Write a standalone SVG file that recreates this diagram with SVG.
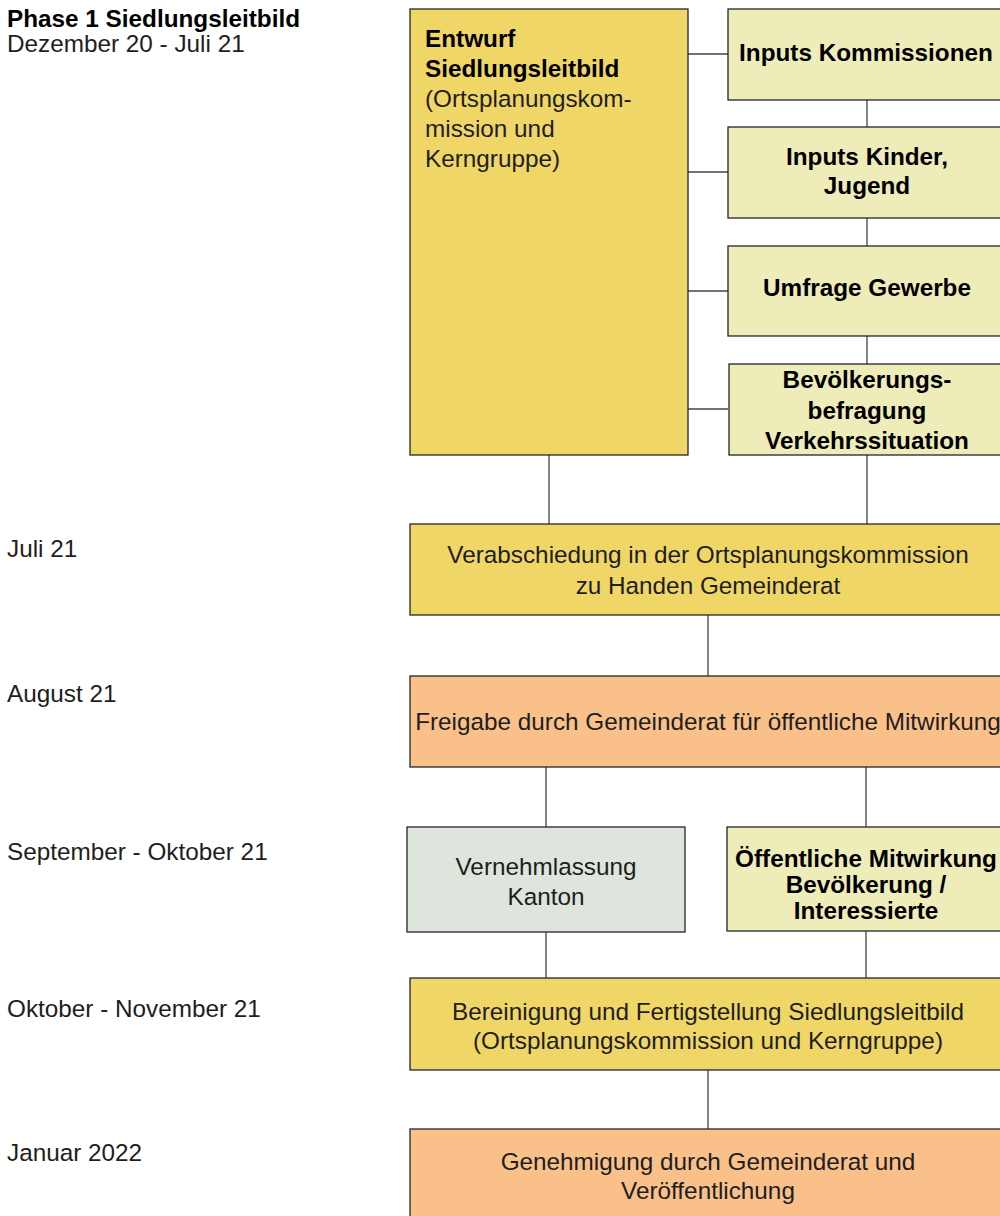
<svg xmlns="http://www.w3.org/2000/svg" width="1000" height="1216" viewBox="0 0 1000 1216">
<style>
text{font-family:"Liberation Sans",Arial,Helvetica,sans-serif;font-size:24.3px;fill:#1e1e1e}
.b{font-weight:bold;fill:#000}
.c{text-anchor:middle}
.box{stroke:#262626;stroke-width:1.3}
.y{fill:#F0D666}
.ly{fill:#EEECB8}
.o{fill:#F9C08A}
.g{fill:#DDE5DC}
.con line{stroke:#444;stroke-width:1.3}
</style>
<rect width="1000" height="1216" fill="#fff"/>
<g id="labels">
<text x="7" y="27" class="b">Phase 1 Siedlungsleitbild</text>
<text x="7" y="52">Dezember 20 - Juli 21</text>
<text x="7" y="557">Juli 21</text>
<text x="7" y="702">August 21</text>
<text x="7" y="860">September - Oktober 21</text>
<text x="7" y="1017">Oktober - November 21</text>
<text x="7" y="1161">Januar 2022</text>
</g>
<g class="con" id="connectors">
<line x1="688" y1="54" x2="728" y2="54"/>
<line x1="688" y1="172" x2="728" y2="172"/>
<line x1="688" y1="291" x2="728" y2="291"/>
<line x1="688" y1="409" x2="728" y2="409"/>
<line x1="867" y1="100" x2="867" y2="127"/>
<line x1="867" y1="218" x2="867" y2="246"/>
<line x1="867" y1="336" x2="867" y2="364"/>
<line x1="549" y1="455" x2="549" y2="524"/>
<line x1="867" y1="455" x2="867" y2="524"/>
<line x1="708" y1="615" x2="708" y2="676"/>
<line x1="546" y1="767" x2="546" y2="827"/>
<line x1="866" y1="767" x2="866" y2="827"/>
<line x1="546" y1="932" x2="546" y2="978"/>
<line x1="866" y1="931" x2="866" y2="978"/>
<line x1="708" y1="1070" x2="708" y2="1129"/>
</g>
<g id="entwurf">
<rect class="box y" x="410" y="9" width="278" height="446"/>
<text x="425" y="46.5" class="b">Entwurf</text>
<text x="425" y="76.5" class="b">Siedlungsleitbild</text>
<text x="425" y="107">(Ortsplanungskom-</text>
<text x="425" y="137">mission und</text>
<text x="425" y="167">Kerngruppe)</text>
</g>
<g id="inputs-kommissionen">
<rect class="box ly" x="728" y="9" width="280" height="91"/>
<text x="866" y="61" class="b c">Inputs Kommissionen</text>
</g>
<g id="inputs-kinder">
<rect class="box ly" x="728" y="127" width="280" height="91"/>
<text x="867" y="165" class="b c">Inputs Kinder,</text>
<text x="867" y="194" class="b c">Jugend</text>
</g>
<g id="umfrage">
<rect class="box ly" x="728" y="246" width="280" height="90"/>
<text x="867" y="296" class="b c">Umfrage Gewerbe</text>
</g>
<g id="befragung">
<rect class="box ly" x="729" y="364" width="280" height="91"/>
<text x="867" y="388" class="b c">Bevölkerungs-</text>
<text x="867" y="418.5" class="b c">befragung</text>
<text x="867" y="449" class="b c">Verkehrssituation</text>
</g>
<g id="verabschiedung">
<rect class="box y" x="410" y="524" width="598" height="91"/>
<text x="708" y="563" class="c">Verabschiedung in der Ortsplanungskommission</text>
<text x="708" y="594" class="c">zu Handen Gemeinderat</text>
</g>
<g id="freigabe">
<rect class="box o" x="410" y="676" width="598" height="91"/>
<text x="708" y="730" class="c">Freigabe durch Gemeinderat für öffentliche Mitwirkung</text>
</g>
<g id="vernehmlassung">
<rect class="box g" x="407" y="827" width="278" height="105"/>
<text x="546" y="875" class="c">Vernehmlassung</text>
<text x="546" y="905" class="c">Kanton</text>
</g>
<g id="mitwirkung">
<rect class="box ly" x="727" y="827" width="281" height="104"/>
<text x="866" y="866.5" class="b c">Öffentliche Mitwirkung</text>
<text x="866" y="892.5" class="b c">Bevölkerung /</text>
<text x="866" y="919" class="b c">Interessierte</text>
</g>
<g id="bereinigung">
<rect class="box y" x="410" y="978" width="598" height="92"/>
<text x="708" y="1020" class="c">Bereinigung und Fertigstellung Siedlungsleitbild</text>
<text x="708" y="1049" class="c">(Ortsplanungskommission und Kerngruppe)</text>
</g>
<g id="genehmigung">
<rect class="box o" x="410" y="1129" width="598" height="95"/>
<text x="708" y="1170" class="c">Genehmigung durch Gemeinderat und</text>
<text x="708" y="1199" class="c">Veröffentlichung</text>
</g>
</svg>
